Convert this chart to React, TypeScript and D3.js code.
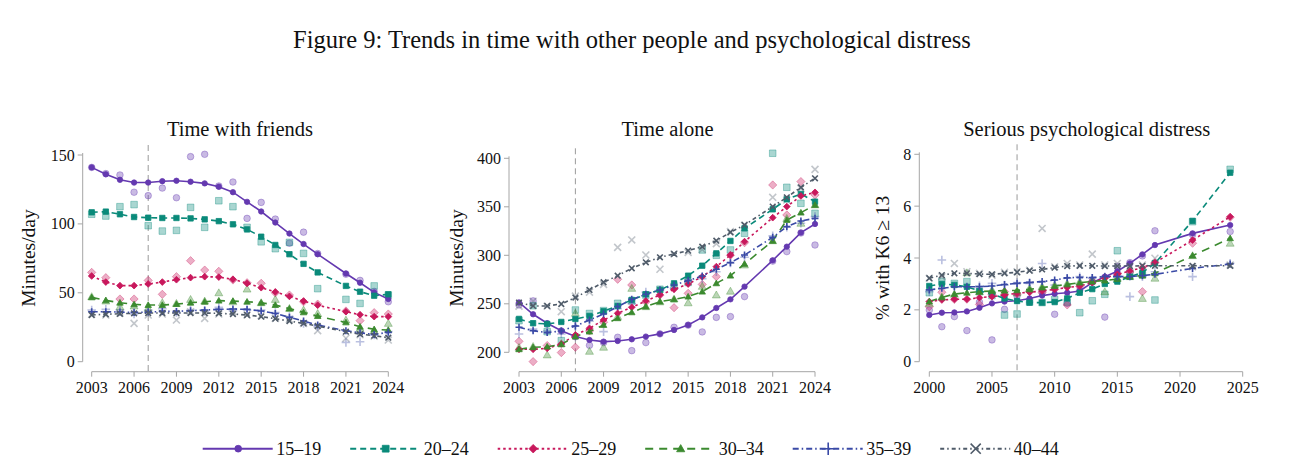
import { useEffect, useRef } from "react";
import * as d3 from "d3";

const WIDTH = 1290;
const HEIGHT = 476;
const FONT = "'Liberation Serif', 'Times New Roman', serif";

// ---- series definitions ----
const groups = ["15–19", "20–24", "25–29", "30–34", "35–39", "40–44"];
const colors = ["#6439b0", "#0a8a7a", "#c8185c", "#3b8a2f", "#3a4aa6", "#4f5b69"];
const dashes = ["", "6,4", "2.5,3", "8,6", "6,3,1.5,3", "4,3,1.5,3"];
const shapes = ["circle", "square", "diamond", "triangle", "plus", "times"];

// ATUS survey years (no 2020), NHIS survey years
const atusYears = [2003, 2004, 2005, 2006, 2007, 2008, 2009, 2010, 2011, 2012, 2013, 2014, 2015, 2016, 2017, 2018, 2019, 2021, 2022, 2023, 2024];
const nhisYears = [2000, 2001, 2002, 2003, 2004, 2005, 2006, 2007, 2008, 2009, 2010, 2011, 2012, 2013, 2014, 2015, 2016, 2017, 2018, 2021, 2024];

// ---- Time with friends (minutes/day) ----
const friendsFit = [
  [141, 136, 132, 130, 130, 131, 131.3, 130.6, 129.4, 127, 123, 116, 109, 101, 93, 85.4, 78, 64, 57.3, 50.3, 45.5],
  [108.4, 108.9, 107, 105, 104.5, 104.3, 104.3, 104, 103.3, 102, 99.7, 96, 90.7, 84.7, 78, 71, 64.8, 55, 50.8, 47.9, 48.9],
  [62.2, 57.8, 55.2, 55.2, 56.4, 57.8, 59.5, 61, 61.7, 61.4, 59.8, 56.9, 53.7, 50.6, 47.4, 44, 41, 36.3, 34.1, 32.7, 32.7],
  [46.7, 44.5, 42.8, 41.6, 41.1, 41.1, 41.8, 42.8, 43.5, 44.3, 44, 43.5, 42.8, 41.1, 38.5, 35.8, 33.1, 28.5, 25.4, 23.5, 23],
  [36.3, 36.3, 36, 35.8, 36, 36.5, 36.5, 37, 37.5, 38, 38.2, 38, 36.8, 35, 32.2, 29.5, 26.6, 22.5, 21, 19.8, 21.3],
  [33.9, 34.4, 34.8, 35.1, 35.3, 35.3, 35.3, 35.3, 35.3, 35.1, 34.6, 33.9, 32.7, 31.2, 29.5, 27.8, 25.9, 21.8, 20, 18.9, 17.4],
];
const friendsRaw = [
  [141, 136.5, 135.5, 123, 120.5, 126, 119, 148.8, 150.5, 127.5, 130.4, 104, 115.6, 103.5, 86, 94, 78.5, 63.5, 59, 51, 43.5],
  [107, 105.7, 112.5, 114, 98.7, 94.8, 95.3, 112, 97.5, 116.8, 112.5, 97.5, 87, 82, 86.6, 78.6, 53, 45.2, 42.3, 55, 48.4],
  [64.8, 61, 45.5, 45.5, 59, 48.9, 61.7, 73.3, 66.5, 65.6, 59.3, 57.3, 56.9, 50, 48.4, 43.5, 41.8, 36.8, 29.8, 35.6, 34.6],
  [47.2, 44, 39.9, 40.4, 38.7, 42.8, 42.3, 45.2, 44, 50, 43.5, 52.7, 42.8, 45.2, 38.7, 37.5, 35, 30.2, 24.2, 22.5, 27.8],
  [37.5, 38, 37.5, 34.6, 37.5, 38.5, 35.8, 37.5, 36.5, 39.4, 37, 37.5, 37.5, 35.6, 32.7, 27.8, 25.4, 14, 14.5, 19.4, 21.8],
  [34.4, 33.9, 35.1, 27.8, 33.9, 34.6, 30.2, 36.3, 31.4, 34.6, 36.3, 33.9, 33.4, 31.4, 30.7, 27.8, 22.5, 17, 19.6, 18.5, 15.7],
];

// ---- Time alone (minutes/day) ----
const aloneFit = [
  [251.4, 239.2, 230, 222.3, 216.2, 212.7, 211, 211.7, 213.4, 216.2, 219, 223, 228.2, 236, 245.7, 254.6, 267.7, 294.8, 308.9, 323.4, 332.3],
  [234.4, 230, 229.2, 231.3, 234.4, 237.5, 242.3, 247.8, 254, 259.8, 264.3, 271.1, 279, 289.3, 302, 314.8, 327.8, 347.4, 357.7, 363.2, 355.3],
  [203.1, 203.1, 204.1, 208.6, 217.9, 224.7, 233.3, 240.2, 246.4, 252.9, 259.1, 264.9, 270.4, 278, 288.3, 300.3, 314.1, 338.8, 350.2, 361.2, 364.9],
  [203.1, 205.2, 205.8, 208.2, 216.2, 221.3, 228.2, 235.1, 241.2, 247.1, 252.2, 254.6, 257.4, 262.5, 271.1, 279, 291.1, 314.8, 336.4, 344, 351.9],
  [225.8, 222.3, 220.3, 222, 227.1, 233.3, 239.5, 247.1, 254.6, 259.8, 264.3, 269.4, 273.9, 278.7, 285.6, 292.4, 300.3, 318.5, 329.6, 335.4, 338.1],
  [251.2, 247.8, 247.8, 249.8, 256.4, 264.3, 272.2, 279, 286.6, 292.8, 297.9, 301.4, 304.8, 308.9, 315.1, 323.7, 331.3, 350.2, 359.8, 370.1, 379.4],
];
const aloneRaw = [
  [248.8, 253, 229, 222, 216, 207.2, 210, 215.5, 201.7, 210, 219, 225.8, 228, 221, 236, 236.8, 257.4, 294, 303.8, 323, 310.6],
  [232.6, 248, 221.3, 212, 243.6, 240, 243, 250.5, 253, 259, 265, 268, 272, 305.5, 300, 305.5, 322.7, 405.2, 370.1, 353.6, 343.3],
  [211.3, 190.4, 207, 199.7, 205.2, 222, 231, 275.3, 269.4, 252, 259, 246, 260.8, 270, 278, 300, 313, 372.5, 341.6, 376, 362.2],
  [205, 206, 197.3, 209, 240.2, 201, 205.2, 237, 265.9, 247, 252, 255, 251, 268, 259.1, 263, 290, 315, 338, 333, 352],
  [218.9, 224, 222, 218.9, 227, 232, 221.3, 245, 250, 262, 264, 266, 275, 276, 283, 292, 298, 320, 329, 333, 340],
  [247.5, 252.7, 247.5, 241.9, 258, 262, 270, 308.2, 315.8, 300.3, 285.6, 301.4, 303, 306, 312, 324.4, 331, 359.8, 357, 369, 388.6],
];

// ---- Serious psychological distress (% with K6 >= 13) ----
const distressFit = [
  [1.8, 1.89, 1.9, 1.94, 2.08, 2.25, 2.32, 2.35, 2.44, 2.55, 2.62, 2.66, 2.73, 3.05, 3.28, 3.49, 3.79, 4.14, 4.5, 4.95, 5.27],
  [2.92, 3.0, 2.96, 2.89, 2.73, 2.61, 2.44, 2.34, 2.28, 2.28, 2.3, 2.44, 2.66, 2.8, 3.0, 3.09, 3.28, 3.44, 3.8, 5.43, 7.29],
  [2.32, 2.38, 2.41, 2.41, 2.47, 2.51, 2.57, 2.64, 2.68, 2.73, 2.79, 2.86, 2.92, 3.05, 3.22, 3.37, 3.5, 3.63, 3.82, 4.69, 5.59],
  [2.32, 2.48, 2.61, 2.66, 2.7, 2.73, 2.74, 2.75, 2.79, 2.86, 2.92, 2.98, 3.05, 3.09, 3.13, 3.19, 3.28, 3.32, 3.41, 4.09, 4.76],
  [2.77, 2.83, 2.89, 2.89, 2.89, 2.92, 2.98, 3.02, 3.06, 3.09, 3.15, 3.24, 3.25, 3.25, 3.28, 3.28, 3.28, 3.32, 3.37, 3.6, 3.77],
  [3.22, 3.34, 3.41, 3.41, 3.38, 3.37, 3.41, 3.45, 3.51, 3.56, 3.63, 3.69, 3.7, 3.7, 3.69, 3.69, 3.69, 3.7, 3.7, 3.7, 3.7],
];
const distressRaw = [
  [1.99, 1.35, 1.74, 1.2, 2.3, 0.84, 2.02, 2.53, 2.3, 2.7, 1.83, 2.25, 2.75, 3.1, 1.72, 3.67, 3.82, 4.08, 5.05, 4.9, 5.02],
  [2.66, 3.1, 3.02, 3.09, 2.7, 2.55, 1.8, 1.84, 2.3, 2.28, 2.4, 2.3, 1.89, 2.35, 2.6, 4.28, 3.4, 3.35, 2.38, 5.4, 7.42],
  [2.12, 2.68, 2.4, 2.41, 2.21, 2.6, 2.7, 2.6, 2.7, 2.66, 2.79, 2.19, 2.9, 3.1, 3.25, 3.4, 3.46, 2.7, 3.82, 4.57, 5.57],
  [2.25, 2.5, 2.6, 3.43, 2.7, 2.77, 2.7, 2.66, 2.83, 2.9, 2.96, 3.02, 3.09, 3.15, 2.7, 3.22, 3.28, 2.44, 3.22, 4.09, 4.57],
  [2.7, 3.92, 2.89, 2.89, 2.93, 3.02, 2.96, 3.05, 3.02, 3.79, 2.96, 3.22, 3.28, 3.22, 3.28, 3.31, 2.51, 3.28, 3.47, 3.28, 3.8],
  [3.22, 3.28, 3.79, 3.47, 3.41, 3.34, 3.45, 3.47, 3.53, 5.14, 3.66, 3.79, 3.73, 4.15, 3.73, 3.79, 3.66, 3.73, 3.99, 3.66, 3.73],
];

const friendsXTicks = [2003, 2006, 2009, 2012, 2015, 2018, 2021, 2024];
const aloneXTicks = [2003, 2006, 2009, 2012, 2015, 2018, 2021, 2024];
const distressXTicks = [2000, 2005, 2010, 2015, 2020, 2025];
const friendsYTicks = [0, 50, 100, 150];
const aloneYTicks = [200, 250, 300, 350, 400];
const distressYTicks = [0, 2, 4, 6, 8];

const BREAK_YEAR = 2007;

interface PanelSpec {
  title: string;
  yLabel: string;
  years: number[];
  fit: number[][];
  raw: number[][];
  xTicks: number[];
  yTicks: number[];
  xDomain: [number, number];
  xRange: [number, number];
  yDomain: [number, number];
  yRange: [number, number];
  axisX: number;
  titleX: number;
  yLabelX: number;
}

const AXIS_Y = 371.7;

const panels: PanelSpec[] = [
  {
    title: "Time with friends",
    yLabel: "Minutes/day",
    years: atusYears,
    fit: friendsFit,
    raw: friendsRaw,
    xTicks: friendsXTicks,
    yTicks: friendsYTicks,
    xDomain: [2003, 2024],
    xRange: [91.7, 388.3],
    yDomain: [0, 150],
    yRange: [361.7, 155],
    axisX: 82.7,
    titleX: 240,
    yLabelX: 28,
  },
  {
    title: "Time alone",
    yLabel: "Minutes/day",
    years: atusYears,
    fit: aloneFit,
    raw: aloneRaw,
    xTicks: aloneXTicks,
    yTicks: aloneYTicks,
    xDomain: [2003, 2024],
    xRange: [519, 815],
    yDomain: [200, 400],
    yRange: [352.3, 158.3],
    axisX: 509,
    titleX: 667.5,
    yLabelX: 456,
  },
  {
    title: "Serious psychological distress",
    yLabel: "% with K6 \u2265 13",
    years: nhisYears,
    fit: distressFit,
    raw: distressRaw,
    xTicks: distressXTicks,
    yTicks: distressYTicks,
    xDomain: [2000, 2025],
    xRange: [929.3, 1242.7],
    yDomain: [0, 8],
    yRange: [361.7, 154.3],
    axisX: 919.3,
    titleX: 1086.7,
    yLabelX: 882,
  },
];

// marker path, centred on 0,0; s = half-size
function markerPath(shape: string, s: number): string {
  const p = d3.path();
  if (shape === "circle") {
    p.arc(0, 0, s, 0, 2 * Math.PI);
  } else if (shape === "square") {
    p.rect(-s, -s, 2 * s, 2 * s);
  } else if (shape === "diamond") {
    const d = s * 1.25;
    p.moveTo(0, -d);
    p.lineTo(d, 0);
    p.lineTo(0, d);
    p.lineTo(-d, 0);
    p.closePath();
  } else if (shape === "triangle") {
    const h = s * 1.2;
    p.moveTo(0, -h);
    p.lineTo(h, h * 0.75);
    p.lineTo(-h, h * 0.75);
    p.closePath();
  } else if (shape === "plus") {
    const d = s * 1.3;
    p.moveTo(-d, 0);
    p.lineTo(d, 0);
    p.moveTo(0, -d);
    p.lineTo(0, d);
  } else {
    const d = s * 1.05;
    p.moveTo(-d, -d);
    p.lineTo(d, d);
    p.moveTo(-d, d);
    p.lineTo(d, -d);
  }
  return p.toString();
}

const isStroked = (shape: string) => shape === "plus" || shape === "times";

function drawMarker(
  g: d3.Selection<SVGGElement, unknown, null, undefined>,
  x: number,
  y: number,
  i: number,
  s: number,
  opacity: number
) {
  const shape = shapes[i];
  const path = g
    .append("path")
    .attr("d", markerPath(shape, s))
    .attr("transform", `translate(${x},${y})`);
  if (isStroked(shape)) {
    path
      .attr("fill", "none")
      .attr("stroke", colors[i])
      .attr("stroke-width", 1.6)
      .attr("stroke-opacity", opacity);
  } else {
    path
      .attr("fill", colors[i])
      .attr("fill-opacity", opacity)
      .attr("stroke", colors[i])
      .attr("stroke-opacity", opacity < 1 ? opacity + 0.1 : 1)
      .attr("stroke-width", 0.8);
  }
}

export default function App() {
  const svgRef = useRef<SVGSVGElement>(null);

  useEffect(() => {
    const svg = d3.select(svgRef.current);
    svg.selectAll("*").remove();

    svg.append("rect").attr("width", WIDTH).attr("height", HEIGHT).attr("fill", "#ffffff");

    // Figure title
    svg
      .append("text")
      .attr("x", 632)
      .attr("y", 48)
      .attr("text-anchor", "middle")
      .attr("font-family", FONT)
      .attr("font-size", "24.5px")
      .attr("fill", "#111")
      .text("Figure 9: Trends in time with other people and psychological distress");

    panels.forEach((pn) => {
      const x = d3.scaleLinear().domain(pn.xDomain).range(pn.xRange);
      const y = d3.scaleLinear().domain(pn.yDomain).range(pn.yRange);
      const g = svg.append("g");

      // Panel title
      g.append("text")
        .attr("x", pn.titleX)
        .attr("y", 136)
        .attr("text-anchor", "middle")
        .attr("font-family", FONT)
        .attr("font-size", "20.5px")
        .attr("fill", "#111")
        .text(pn.title);

      // Y axis label
      g.append("text")
        .attr("transform", `translate(${pn.yLabelX},${258}) rotate(-90)`)
        .attr("text-anchor", "middle")
        .attr("dominant-baseline", "central")
        .attr("font-family", FONT)
        .attr("font-size", "19.5px")
        .attr("fill", "#111")
        .text(pn.yLabel);

      // Y axis
      const yTop = y(pn.yDomain[1]) - 2;
      g.append("line")
        .attr("x1", pn.axisX)
        .attr("x2", pn.axisX)
        .attr("y1", y(pn.yDomain[0]))
        .attr("y2", yTop)
        .attr("stroke", "#a6a6a6")
        .attr("stroke-width", 1);
      pn.yTicks.forEach((t) => {
        g.append("line")
          .attr("x1", pn.axisX - 5)
          .attr("x2", pn.axisX)
          .attr("y1", y(t))
          .attr("y2", y(t))
          .attr("stroke", "#a6a6a6");
        g.append("text")
          .attr("x", pn.axisX - 8)
          .attr("y", y(t))
          .attr("text-anchor", "end")
          .attr("dominant-baseline", "central")
          .attr("font-family", FONT)
          .attr("font-size", "16px")
          .attr("fill", "#111")
          .text(String(t));
      });

      // X axis
      g.append("line")
        .attr("x1", x(pn.xDomain[0]))
        .attr("x2", x(pn.xDomain[1]))
        .attr("y1", AXIS_Y)
        .attr("y2", AXIS_Y)
        .attr("stroke", "#a6a6a6");
      pn.xTicks.forEach((t) => {
        g.append("line")
          .attr("x1", x(t))
          .attr("x2", x(t))
          .attr("y1", AXIS_Y)
          .attr("y2", AXIS_Y + 5)
          .attr("stroke", "#a6a6a6");
        g.append("text")
          .attr("x", x(t))
          .attr("y", 393)
          .attr("text-anchor", "middle")
          .attr("font-family", FONT)
          .attr("font-size", "16px")
          .attr("fill", "#111")
          .text(String(t));
      });

      // 2007 break line
      g.append("line")
        .attr("x1", x(BREAK_YEAR))
        .attr("x2", x(BREAK_YEAR))
        .attr("y1", yTop - 8)
        .attr("y2", AXIS_Y)
        .attr("stroke", "#9a9a9a")
        .attr("stroke-width", 1)
        .attr("stroke-dasharray", "6,4");

      // Raw yearly estimates (faint)
      pn.raw.forEach((vals, i) => {
        vals.forEach((v, k) => {
          drawMarker(g, x(pn.years[k]), y(v), i, 3.3, 0.35);
        });
      });

      // Smoothed lines
      const line = d3
        .line<number>()
        .x((_, k) => x(pn.years[k]))
        .y((v) => y(v));
      pn.fit.forEach((vals, i) => {
        g.append("path")
          .attr("d", line(vals) ?? "")
          .attr("fill", "none")
          .attr("stroke", colors[i])
          .attr("stroke-width", 1.6)
          .attr("stroke-dasharray", dashes[i]);
      });
      pn.fit.forEach((vals, i) => {
        vals.forEach((v, k) => {
          drawMarker(g, x(pn.years[k]), y(v), i, 2.7, 1);
        });
      });
    });

    // Legend
    const legendY = 448.7;
    groups.forEach((label, i) => {
      const x0 = 202.7 + i * 147.5;
      svg
        .append("line")
        .attr("x1", x0)
        .attr("x2", x0 + 70)
        .attr("y1", legendY)
        .attr("y2", legendY)
        .attr("stroke", colors[i])
        .attr("stroke-width", 2)
        .attr("stroke-dasharray", dashes[i]);
      const lg = svg.append("g") as unknown as d3.Selection<SVGGElement, unknown, null, undefined>;
      drawMarker(lg, x0 + 35.5, legendY, i, isStroked(shapes[i]) ? 4.8 : 3.4, 1);
      svg
        .append("text")
        .attr("x", x0 + 73.5)
        .attr("y", legendY)
        .attr("dominant-baseline", "central")
        .attr("font-family", FONT)
        .attr("font-size", "18px")
        .attr("fill", "#111")
        .text(label);
    });
  }, []);

  return (
    <svg
      ref={svgRef}
      width={WIDTH}
      height={HEIGHT}
      style={{ display: "block", position: "absolute", left: 0, top: 0 }}
    />
  );
}
